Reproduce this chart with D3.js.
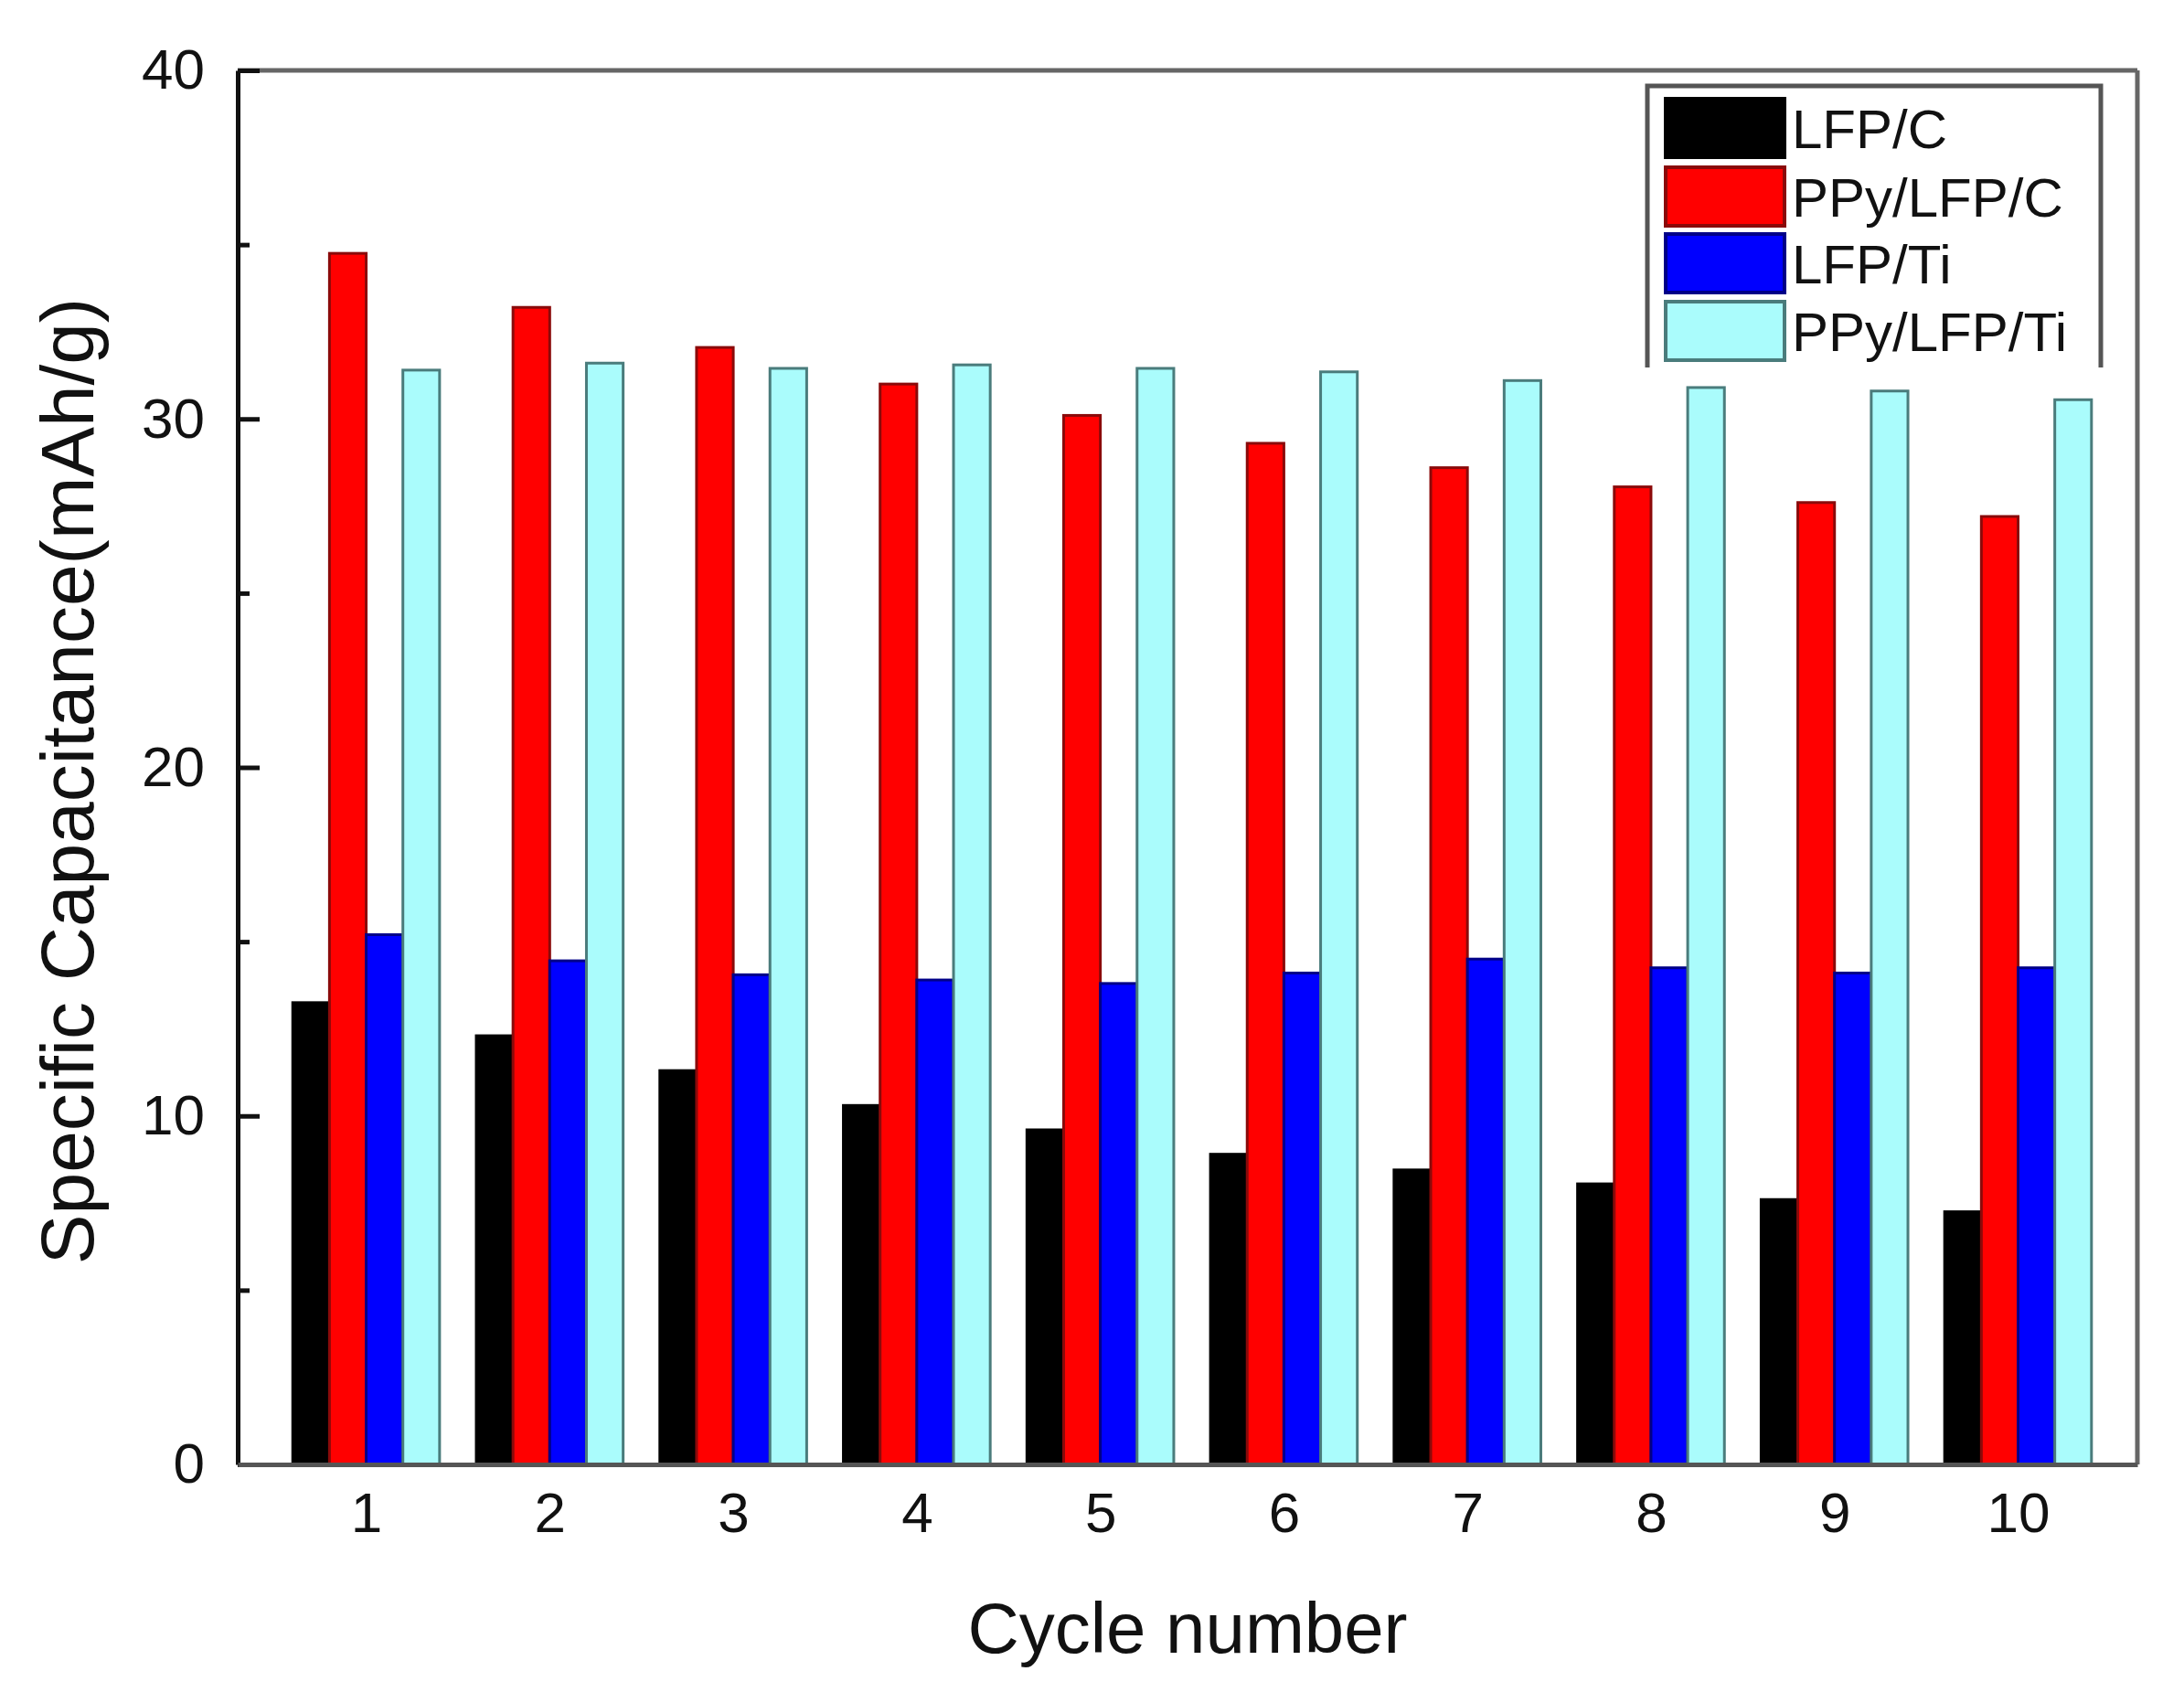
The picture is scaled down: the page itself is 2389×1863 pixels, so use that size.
<!DOCTYPE html>
<html><head><meta charset="utf-8">
<script src="https://cdn.jsdelivr.net/npm/d3@7/dist/d3.min.js"></script>
<style>html,body{margin:0;padding:0;background:#fff;}svg{display:block;}</style>
</head><body>
<svg id="c" width="2389" height="1863"></svg>
<script>
const cycles = [1,2,3,4,5,6,7,8,9,10];
const seriesNames = ["LFP/C","PPy/LFP/C","LFP/Ti","PPy/LFP/Ti"];
const lfpC    = [13.25,12.3,11.3,10.3,9.6,8.9,8.45,8.05,7.6,7.25];
const ppyLfpC = [34.75,33.2,32.05,31.0,30.1,29.3,28.6,28.05,27.6,27.2];
const lfpTi   = [15.2,14.45,14.05,13.9,13.8,14.1,14.5,14.25,14.1,14.25];
const ppyLfpTi= [31.4,31.6,31.45,31.55,31.45,31.35,31.1,30.9,30.8,30.55];
const yTicks = [0,10,20,30,40];
const yMinor = [5,15,25,35];

const seriesValues = [lfpC, ppyLfpC, lfpTi, ppyLfpTi];
const fills   = ["#000000","#ff0000","#0000ff","#aafcfc"];
const strokes = ["#000000","#8a0a0a","#000088","#4a7c7c"];

const svg = d3.select("#c");
const L=260, R=2338, T=77, B=1602;
const x = d3.scaleLinear().domain([0.3,10.65]).range([L,R]);
const y = d3.scaleLinear().domain([0,40]).range([B,T]);
const bw = 0.2;
const font = "'Liberation Sans', Arial, sans-serif";

// bars
seriesValues.forEach((vals,si)=>{
  svg.append("g").selectAll("rect").data(cycles).join("rect")
    .attr("x", (c)=> x(c - 0.4 + si*bw))
    .attr("width", x(bw) - x(0))
    .attr("y", (c,i)=> y(vals[i]))
    .attr("height", (c,i)=> y(0) - y(vals[i]))
    .attr("fill", fills[si])
    .attr("stroke", strokes[si])
    .attr("stroke-width", 3);
});

// frame: top & right gray
svg.append("line").attr("x1",L).attr("x2",R).attr("y1",T).attr("y2",T).attr("stroke","#666").attr("stroke-width",5);
svg.append("line").attr("x1",R).attr("x2",R).attr("y1",T).attr("y2",B).attr("stroke","#666").attr("stroke-width",5);

// y axis
const yAxis = d3.axisLeft(y).tickValues(yTicks).tickSizeInner(-24).tickSizeOuter(0).tickPadding(36).tickFormat(d3.format("d"));
const gy = svg.append("g").attr("transform",`translate(${L},0)`).call(yAxis);
gy.select(".domain").attr("stroke","#111").attr("stroke-width",5);
gy.selectAll(".tick line").attr("stroke","#111").attr("stroke-width",5);
gy.selectAll(".tick text").attr("font-family",font).attr("font-size",62).attr("fill","#111").attr("x",-36);
const yAxisMinor = d3.axisLeft(y).tickValues(yMinor).tickSize(-13).tickFormat("");
const gym = svg.append("g").attr("transform",`translate(${L},0)`).call(yAxisMinor);
gym.select(".domain").remove();
gym.selectAll(".tick line").attr("stroke","#111").attr("stroke-width",5);

// x axis
const xAxis = d3.axisBottom(x).tickValues(cycles).tickSize(0).tickPadding(30).tickFormat(d3.format("d"));
const gx = svg.append("g").attr("transform",`translate(0,${B})`).call(xAxis);
gx.select(".domain").attr("stroke","#555").attr("stroke-width",5);
gx.selectAll(".tick text").attr("font-family",font).attr("font-size",62).attr("fill","#111");

// axis titles
svg.append("text").attr("x",(L+R)/2).attr("y",1808).attr("text-anchor","middle")
  .attr("font-family",font).attr("font-size",78).attr("fill","#111").text("Cycle number");
svg.append("text").attr("transform",`translate(73,${(T+B)/2+15}) rotate(-90)`).attr("text-anchor","middle")
  .attr("dominant-baseline","central")
  .attr("font-family",font).attr("font-size",82).attr("fill","#111").text("Specific Capacitance(mAh/g)");

// legend
const lg = svg.append("g");
const lx0=1802, lx1=2298, ly0=94, ly1=402;
lg.append("rect").attr("x",lx0).attr("y",ly0).attr("width",lx1-lx0).attr("height",ly1-ly0).attr("fill","#fff");
lg.append("path").attr("d",`M${lx0},${ly1}V${ly0}H${lx1}V${ly1}`).attr("fill","none").attr("stroke","#555").attr("stroke-width",5);
const swY = [108,183,256,330];
seriesNames.forEach((n,i)=>{
  lg.append("rect").attr("x",1822).attr("y",swY[i]).attr("width",130).attr("height",64)
    .attr("fill",fills[i]).attr("stroke",strokes[i]).attr("stroke-width",4);
  lg.append("text").attr("x",1960).attr("y",swY[i]+54).attr("font-family",font).attr("font-size",60)
    .attr("fill","#111").text(n);
});
</script>
</body></html>
